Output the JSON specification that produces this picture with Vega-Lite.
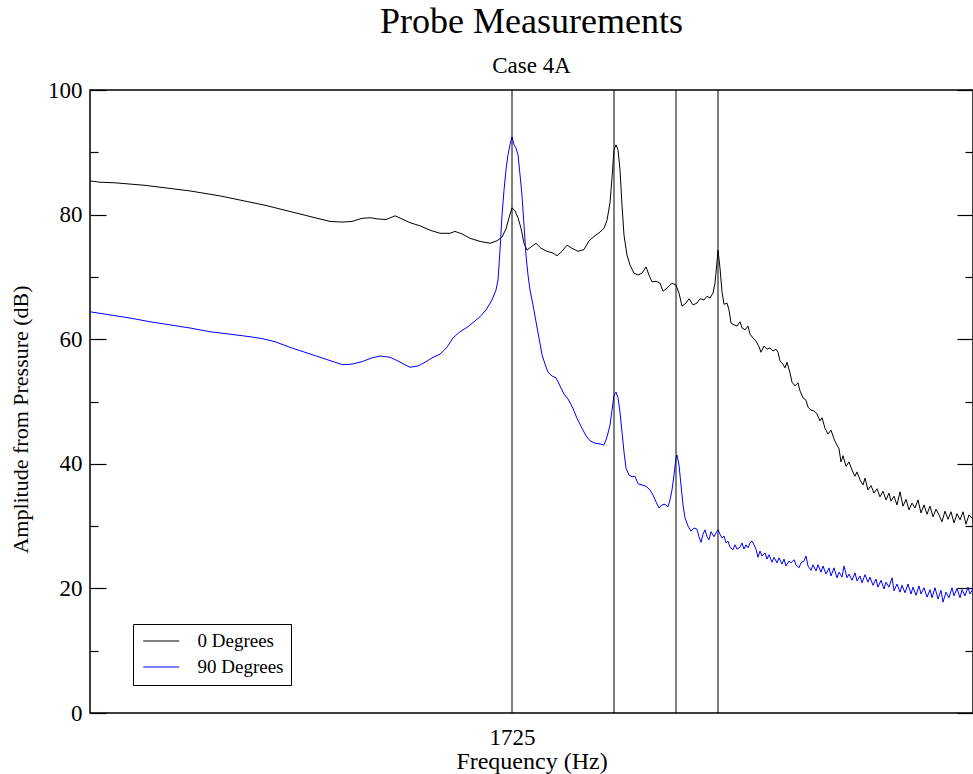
{
  "$schema": "https://vega.github.io/schema/vega-lite/v6.json",
  "width": 883,
  "height": 623,
  "autosize": "none",
  "padding": {"left": 90, "top": 90, "right": 0, "bottom": 61},
  "background": "white",
  "config": {
    "font": "Liberation Serif",
    "view": {"stroke": "black", "strokeWidth": 1.5},
    "axis": {"grid": false, "domain": false, "labelFont": "Liberation Serif", "titleFont": "Liberation Serif", "labelColor": "black", "titleColor": "black", "tickColor": "black", "labelFontSize": 23, "titleFontSize": 22, "titleFontWeight": "normal"}
  },
  "title": {
    "text": "Probe Measurements",
    "subtitle": "Case 4A",
    "fontSize": 36,
    "fontWeight": "normal",
    "font": "Liberation Serif",
    "subtitleFont": "Liberation Serif",
    "subtitleFontSize": 23,
    "subtitleColor": "black",
    "color": "black",
    "anchor": "middle",
    "subtitlePadding": 14,
    "offset": 0
  },
  "datasets": {
    "marks": [{"f": 1725}, {"f": 1827}, {"f": 1889}, {"f": 1931}]
  },
  "layer": [
    {
      "data": {"values": [
        {"s":"0 Degrees","f":1303,"a":85.4},{"s":"0 Degrees","f":1313,"a":85.2},{"s":"0 Degrees","f":1328,"a":85.1},{"s":"0 Degrees","f":1343,"a":84.9},{"s":"0 Degrees","f":1358,"a":84.7},{"s":"0 Degrees","f":1373,"a":84.4},{"s":"0 Degrees","f":1388,"a":84.1},{"s":"0 Degrees","f":1403,"a":83.8},{"s":"0 Degrees","f":1418,"a":83.4},{"s":"0 Degrees","f":1433,"a":83.0},{"s":"0 Degrees","f":1448,"a":82.5},{"s":"0 Degrees","f":1463,"a":82.0},{"s":"0 Degrees","f":1478,"a":81.5},{"s":"0 Degrees","f":1493,"a":80.9},{"s":"0 Degrees","f":1508,"a":80.3},{"s":"0 Degrees","f":1523,"a":79.7},{"s":"0 Degrees","f":1533,"a":79.3},{"s":"0 Degrees","f":1543,"a":78.9},{"s":"0 Degrees","f":1555,"a":78.8},{"s":"0 Degrees","f":1565,"a":78.9},{"s":"0 Degrees","f":1575,"a":79.4},{"s":"0 Degrees","f":1583,"a":79.5},{"s":"0 Degrees","f":1591,"a":79.3},{"s":"0 Degrees","f":1599,"a":79.2},{"s":"0 Degrees","f":1608,"a":79.8},{"s":"0 Degrees","f":1615,"a":79.3},{"s":"0 Degrees","f":1623,"a":78.7},{"s":"0 Degrees","f":1633,"a":78.2},{"s":"0 Degrees","f":1643,"a":77.5},{"s":"0 Degrees","f":1653,"a":77.0},{"s":"0 Degrees","f":1663,"a":77.0},{"s":"0 Degrees","f":1668,"a":77.3},{"s":"0 Degrees","f":1675,"a":76.9},{"s":"0 Degrees","f":1683,"a":76.2},{"s":"0 Degrees","f":1693,"a":75.7},{"s":"0 Degrees","f":1703,"a":75.4},{"s":"0 Degrees","f":1710,"a":75.8},{"s":"0 Degrees","f":1715,"a":76.4},{"s":"0 Degrees","f":1719,"a":77.7},{"s":"0 Degrees","f":1722,"a":79.5},{"s":"0 Degrees","f":1725,"a":81.1},{"s":"0 Degrees","f":1728,"a":80.6},{"s":"0 Degrees","f":1731,"a":79.5},{"s":"0 Degrees","f":1734,"a":77.8},{"s":"0 Degrees","f":1737,"a":75.4},{"s":"0 Degrees","f":1740,"a":74.3},{"s":"0 Degrees","f":1744,"a":74.8},{"s":"0 Degrees","f":1749,"a":75.4},{"s":"0 Degrees","f":1754,"a":74.6},{"s":"0 Degrees","f":1760,"a":74.1},{"s":"0 Degrees","f":1765,"a":73.9},{"s":"0 Degrees","f":1770,"a":73.4},{"s":"0 Degrees","f":1775,"a":74.1},{"s":"0 Degrees","f":1780,"a":75.1},{"s":"0 Degrees","f":1785,"a":74.6},{"s":"0 Degrees","f":1791,"a":74.1},{"s":"0 Degrees","f":1797,"a":74.4},{"s":"0 Degrees","f":1802,"a":75.8},{"s":"0 Degrees","f":1808,"a":76.6},{"s":"0 Degrees","f":1813,"a":77.2},{"s":"0 Degrees","f":1817,"a":77.8},{"s":"0 Degrees","f":1820,"a":79.1},{"s":"0 Degrees","f":1823,"a":81.9},{"s":"0 Degrees","f":1825,"a":85.9},{"s":"0 Degrees","f":1827,"a":90.4},{"s":"0 Degrees","f":1829,"a":91.2},{"s":"0 Degrees","f":1831,"a":90.4},{"s":"0 Degrees","f":1833,"a":87.2},{"s":"0 Degrees","f":1835,"a":81.5},{"s":"0 Degrees","f":1837,"a":76.7},{"s":"0 Degrees","f":1840,"a":73.5},{"s":"0 Degrees","f":1843,"a":71.9},{"s":"0 Degrees","f":1847,"a":70.6},{"s":"0 Degrees","f":1851,"a":70.3},{"s":"0 Degrees","f":1855,"a":70.6},{"s":"0 Degrees","f":1859,"a":71.6},{"s":"0 Degrees","f":1862,"a":70.3},{"s":"0 Degrees","f":1865,"a":69.2},{"s":"0 Degrees","f":1869,"a":69.3},{"s":"0 Degrees","f":1873,"a":69.0},{"s":"0 Degrees","f":1876,"a":67.7},{"s":"0 Degrees","f":1880,"a":68.2},{"s":"0 Degrees","f":1885,"a":69.0},{"s":"0 Degrees","f":1889,"a":68.7},{"s":"0 Degrees","f":1892,"a":67.4},{"s":"0 Degrees","f":1895,"a":65.3},{"s":"0 Degrees","f":1899,"a":65.8},{"s":"0 Degrees","f":1902,"a":66.5},{"s":"0 Degrees","f":1906,"a":65.5},{"s":"0 Degrees","f":1910,"a":65.8},{"s":"0 Degrees","f":1913,"a":66.5},{"s":"0 Degrees","f":1917,"a":66.3},{"s":"0 Degrees","f":1920,"a":66.9},{"s":"0 Degrees","f":1923,"a":66.6},{"s":"0 Degrees","f":1926,"a":67.4},{"s":"0 Degrees","f":1928,"a":69.0},{"s":"0 Degrees","f":1930,"a":72.4},{"s":"0 Degrees","f":1931,"a":74.3},{"s":"0 Degrees","f":1933,"a":71.4},{"s":"0 Degrees","f":1935,"a":67.6},{"s":"0 Degrees","f":1937,"a":65.6},{"s":"0 Degrees","f":1940,"a":65.8},{"s":"0 Degrees","f":1942,"a":64.7},{"s":"0 Degrees","f":1944,"a":62.6},{"s":"0 Degrees","f":1947,"a":62.3},{"s":"0 Degrees","f":1950,"a":62.1},{"s":"0 Degrees","f":1953,"a":62.8},{"s":"0 Degrees","f":1955,"a":61.8},{"s":"0 Degrees","f":1958,"a":61.5},{"s":"0 Degrees","f":1961,"a":62.1},{"s":"0 Degrees","f":1963,"a":60.8},{"s":"0 Degrees","f":1966,"a":60.2},{"s":"0 Degrees","f":1969,"a":59.7},{"s":"0 Degrees","f":1972,"a":58.8},{"s":"0 Degrees","f":1974,"a":57.9},{"s":"0 Degrees","f":1977,"a":58.9},{"s":"0 Degrees","f":1980,"a":58.4},{"s":"0 Degrees","f":1983,"a":58.6},{"s":"0 Degrees","f":1986,"a":58.1},{"s":"0 Degrees","f":1989,"a":58.4},{"s":"0 Degrees","f":1991,"a":57.9},{"s":"0 Degrees","f":1993,"a":56.5},{"s":"0 Degrees","f":1996,"a":56.0},{"s":"0 Degrees","f":1998,"a":55.4},{"s":"0 Degrees","f":2000,"a":56.3},{"s":"0 Degrees","f":2003,"a":54.6},{"s":"0 Degrees","f":2005,"a":53.1},{"s":"0 Degrees","f":2008,"a":52.5},{"s":"0 Degrees","f":2011,"a":53.0},{"s":"0 Degrees","f":2013,"a":51.7},{"s":"0 Degrees","f":2016,"a":50.6},{"s":"0 Degrees","f":2019,"a":50.2},{"s":"0 Degrees","f":2021,"a":49.1},{"s":"0 Degrees","f":2024,"a":48.6},{"s":"0 Degrees","f":2027,"a":48.5},{"s":"0 Degrees","f":2030,"a":48.0},{"s":"0 Degrees","f":2033,"a":46.9},{"s":"0 Degrees","f":2035,"a":47.4},{"s":"0 Degrees","f":2038,"a":45.7},{"s":"0 Degrees","f":2041,"a":44.8},{"s":"0 Degrees","f":2044,"a":45.4},{"s":"0 Degrees","f":2047,"a":44.0},{"s":"0 Degrees","f":2049,"a":43.3},{"s":"0 Degrees","f":2052,"a":42.4},{"s":"0 Degrees","f":2054,"a":40.3},{"s":"0 Degrees","f":2056,"a":41.3},{"s":"0 Degrees","f":2059,"a":39.6},{"s":"0 Degrees","f":2062,"a":40.3},{"s":"0 Degrees","f":2065,"a":39.0},{"s":"0 Degrees","f":2068,"a":38.0},{"s":"0 Degrees","f":2070,"a":38.7},{"s":"0 Degrees","f":2073,"a":37.4},{"s":"0 Degrees","f":2076,"a":36.6},{"s":"0 Degrees","f":2078,"a":37.7},{"s":"0 Degrees","f":2081,"a":35.8},{"s":"0 Degrees","f":2084,"a":36.5},{"s":"0 Degrees","f":2087,"a":35.3},{"s":"0 Degrees","f":2090,"a":36.0},{"s":"0 Degrees","f":2093,"a":34.7},{"s":"0 Degrees","f":2096,"a":35.6},{"s":"0 Degrees","f":2099,"a":34.2},{"s":"0 Degrees","f":2102,"a":35.3},{"s":"0 Degrees","f":2104,"a":34.0},{"s":"0 Degrees","f":2107,"a":34.8},{"s":"0 Degrees","f":2110,"a":33.4},{"s":"0 Degrees","f":2113,"a":35.5},{"s":"0 Degrees","f":2116,"a":33.2},{"s":"0 Degrees","f":2119,"a":34.3},{"s":"0 Degrees","f":2122,"a":32.6},{"s":"0 Degrees","f":2125,"a":33.7},{"s":"0 Degrees","f":2128,"a":32.9},{"s":"0 Degrees","f":2131,"a":34.2},{"s":"0 Degrees","f":2134,"a":32.1},{"s":"0 Degrees","f":2137,"a":33.4},{"s":"0 Degrees","f":2140,"a":31.9},{"s":"0 Degrees","f":2143,"a":33.2},{"s":"0 Degrees","f":2146,"a":31.5},{"s":"0 Degrees","f":2149,"a":32.7},{"s":"0 Degrees","f":2152,"a":31.8},{"s":"0 Degrees","f":2155,"a":30.7},{"s":"0 Degrees","f":2158,"a":32.4},{"s":"0 Degrees","f":2161,"a":31.1},{"s":"0 Degrees","f":2164,"a":32.3},{"s":"0 Degrees","f":2167,"a":30.5},{"s":"0 Degrees","f":2170,"a":32.0},{"s":"0 Degrees","f":2173,"a":31.0},{"s":"0 Degrees","f":2176,"a":32.3},{"s":"0 Degrees","f":2179,"a":30.3},{"s":"0 Degrees","f":2182,"a":31.8},{"s":"0 Degrees","f":2186,"a":31.1},
        {"s":"90 Degrees","f":1303,"a":64.4},{"s":"90 Degrees","f":1323,"a":63.9},{"s":"90 Degrees","f":1343,"a":63.4},{"s":"90 Degrees","f":1363,"a":62.8},{"s":"90 Degrees","f":1383,"a":62.3},{"s":"90 Degrees","f":1403,"a":61.8},{"s":"90 Degrees","f":1423,"a":61.2},{"s":"90 Degrees","f":1443,"a":60.8},{"s":"90 Degrees","f":1463,"a":60.4},{"s":"90 Degrees","f":1475,"a":60.1},{"s":"90 Degrees","f":1488,"a":59.6},{"s":"90 Degrees","f":1503,"a":58.7},{"s":"90 Degrees","f":1518,"a":57.9},{"s":"90 Degrees","f":1533,"a":57.1},{"s":"90 Degrees","f":1548,"a":56.3},{"s":"90 Degrees","f":1556,"a":55.9},{"s":"90 Degrees","f":1565,"a":56.0},{"s":"90 Degrees","f":1575,"a":56.4},{"s":"90 Degrees","f":1585,"a":57.0},{"s":"90 Degrees","f":1593,"a":57.3},{"s":"90 Degrees","f":1603,"a":57.1},{"s":"90 Degrees","f":1611,"a":56.5},{"s":"90 Degrees","f":1618,"a":55.9},{"s":"90 Degrees","f":1623,"a":55.5},{"s":"90 Degrees","f":1631,"a":55.7},{"s":"90 Degrees","f":1638,"a":56.3},{"s":"90 Degrees","f":1645,"a":57.0},{"s":"90 Degrees","f":1653,"a":57.6},{"s":"90 Degrees","f":1660,"a":58.7},{"s":"90 Degrees","f":1666,"a":60.2},{"s":"90 Degrees","f":1673,"a":61.2},{"s":"90 Degrees","f":1680,"a":61.9},{"s":"90 Degrees","f":1687,"a":62.8},{"s":"90 Degrees","f":1693,"a":63.6},{"s":"90 Degrees","f":1699,"a":64.7},{"s":"90 Degrees","f":1705,"a":66.3},{"s":"90 Degrees","f":1709,"a":67.9},{"s":"90 Degrees","f":1711,"a":69.5},{"s":"90 Degrees","f":1713,"a":74.3},{"s":"90 Degrees","f":1715,"a":79.9},{"s":"90 Degrees","f":1717,"a":83.9},{"s":"90 Degrees","f":1719,"a":87.2},{"s":"90 Degrees","f":1721,"a":89.6},{"s":"90 Degrees","f":1723,"a":91.2},{"s":"90 Degrees","f":1725,"a":92.5},{"s":"90 Degrees","f":1727,"a":91.2},{"s":"90 Degrees","f":1729,"a":90.7},{"s":"90 Degrees","f":1731,"a":89.6},{"s":"90 Degrees","f":1733,"a":86.4},{"s":"90 Degrees","f":1735,"a":83.1},{"s":"90 Degrees","f":1737,"a":78.3},{"s":"90 Degrees","f":1739,"a":73.5},{"s":"90 Degrees","f":1741,"a":70.3},{"s":"90 Degrees","f":1743,"a":67.9},{"s":"90 Degrees","f":1746,"a":65.5},{"s":"90 Degrees","f":1749,"a":62.8},{"s":"90 Degrees","f":1752,"a":60.2},{"s":"90 Degrees","f":1755,"a":57.5},{"s":"90 Degrees","f":1758,"a":56.0},{"s":"90 Degrees","f":1761,"a":54.7},{"s":"90 Degrees","f":1765,"a":54.1},{"s":"90 Degrees","f":1769,"a":53.8},{"s":"90 Degrees","f":1773,"a":52.5},{"s":"90 Degrees","f":1777,"a":51.2},{"s":"90 Degrees","f":1781,"a":50.4},{"s":"90 Degrees","f":1786,"a":48.9},{"s":"90 Degrees","f":1790,"a":47.3},{"s":"90 Degrees","f":1795,"a":45.7},{"s":"90 Degrees","f":1799,"a":44.5},{"s":"90 Degrees","f":1803,"a":43.7},{"s":"90 Degrees","f":1808,"a":43.3},{"s":"90 Degrees","f":1813,"a":43.2},{"s":"90 Degrees","f":1817,"a":43.0},{"s":"90 Degrees","f":1820,"a":44.3},{"s":"90 Degrees","f":1823,"a":46.2},{"s":"90 Degrees","f":1825,"a":48.6},{"s":"90 Degrees","f":1827,"a":51.0},{"s":"90 Degrees","f":1829,"a":51.5},{"s":"90 Degrees","f":1831,"a":50.6},{"s":"90 Degrees","f":1833,"a":48.3},{"s":"90 Degrees","f":1835,"a":45.1},{"s":"90 Degrees","f":1837,"a":41.9},{"s":"90 Degrees","f":1839,"a":39.3},{"s":"90 Degrees","f":1842,"a":38.2},{"s":"90 Degrees","f":1845,"a":37.9},{"s":"90 Degrees","f":1848,"a":38.0},{"s":"90 Degrees","f":1851,"a":36.8},{"s":"90 Degrees","f":1855,"a":36.6},{"s":"90 Degrees","f":1859,"a":36.4},{"s":"90 Degrees","f":1863,"a":35.8},{"s":"90 Degrees","f":1866,"a":35.0},{"s":"90 Degrees","f":1869,"a":33.9},{"s":"90 Degrees","f":1872,"a":32.9},{"s":"90 Degrees","f":1875,"a":33.4},{"s":"90 Degrees","f":1878,"a":33.5},{"s":"90 Degrees","f":1881,"a":33.1},{"s":"90 Degrees","f":1883,"a":34.2},{"s":"90 Degrees","f":1885,"a":35.8},{"s":"90 Degrees","f":1887,"a":38.2},{"s":"90 Degrees","f":1889,"a":40.9},{"s":"90 Degrees","f":1890,"a":41.4},{"s":"90 Degrees","f":1892,"a":39.8},{"s":"90 Degrees","f":1894,"a":36.6},{"s":"90 Degrees","f":1896,"a":33.4},{"s":"90 Degrees","f":1898,"a":31.3},{"s":"90 Degrees","f":1901,"a":30.0},{"s":"90 Degrees","f":1904,"a":29.2},{"s":"90 Degrees","f":1907,"a":29.7},{"s":"90 Degrees","f":1910,"a":29.5},{"s":"90 Degrees","f":1912,"a":28.3},{"s":"90 Degrees","f":1914,"a":27.4},{"s":"90 Degrees","f":1916,"a":28.7},{"s":"90 Degrees","f":1918,"a":29.4},{"s":"90 Degrees","f":1920,"a":28.3},{"s":"90 Degrees","f":1922,"a":27.8},{"s":"90 Degrees","f":1924,"a":29.1},{"s":"90 Degrees","f":1927,"a":28.3},{"s":"90 Degrees","f":1929,"a":28.9},{"s":"90 Degrees","f":1931,"a":29.4},{"s":"90 Degrees","f":1933,"a":28.7},{"s":"90 Degrees","f":1935,"a":28.1},{"s":"90 Degrees","f":1937,"a":28.4},{"s":"90 Degrees","f":1939,"a":27.3},{"s":"90 Degrees","f":1941,"a":27.6},{"s":"90 Degrees","f":1943,"a":26.6},{"s":"90 Degrees","f":1946,"a":26.2},{"s":"90 Degrees","f":1948,"a":27.0},{"s":"90 Degrees","f":1950,"a":26.3},{"s":"90 Degrees","f":1953,"a":26.6},{"s":"90 Degrees","f":1955,"a":27.3},{"s":"90 Degrees","f":1957,"a":26.3},{"s":"90 Degrees","f":1959,"a":27.0},{"s":"90 Degrees","f":1961,"a":26.5},{"s":"90 Degrees","f":1963,"a":27.3},{"s":"90 Degrees","f":1965,"a":27.6},{"s":"90 Degrees","f":1967,"a":27.0},{"s":"90 Degrees","f":1969,"a":26.3},{"s":"90 Degrees","f":1971,"a":25.0},{"s":"90 Degrees","f":1973,"a":26.0},{"s":"90 Degrees","f":1975,"a":25.2},{"s":"90 Degrees","f":1978,"a":25.7},{"s":"90 Degrees","f":1980,"a":24.7},{"s":"90 Degrees","f":1982,"a":25.4},{"s":"90 Degrees","f":1985,"a":24.2},{"s":"90 Degrees","f":1987,"a":25.0},{"s":"90 Degrees","f":1990,"a":24.1},{"s":"90 Degrees","f":1992,"a":24.9},{"s":"90 Degrees","f":1995,"a":23.9},{"s":"90 Degrees","f":1997,"a":24.7},{"s":"90 Degrees","f":1999,"a":23.6},{"s":"90 Degrees","f":2002,"a":24.4},{"s":"90 Degrees","f":2004,"a":24.1},{"s":"90 Degrees","f":2007,"a":24.6},{"s":"90 Degrees","f":2009,"a":23.8},{"s":"90 Degrees","f":2012,"a":23.3},{"s":"90 Degrees","f":2014,"a":24.1},{"s":"90 Degrees","f":2017,"a":24.4},{"s":"90 Degrees","f":2019,"a":25.2},{"s":"90 Degrees","f":2021,"a":23.6},{"s":"90 Degrees","f":2024,"a":22.9},{"s":"90 Degrees","f":2026,"a":23.8},{"s":"90 Degrees","f":2029,"a":22.8},{"s":"90 Degrees","f":2031,"a":23.8},{"s":"90 Degrees","f":2034,"a":22.6},{"s":"90 Degrees","f":2036,"a":23.6},{"s":"90 Degrees","f":2039,"a":22.3},{"s":"90 Degrees","f":2042,"a":23.3},{"s":"90 Degrees","f":2044,"a":22.0},{"s":"90 Degrees","f":2047,"a":23.3},{"s":"90 Degrees","f":2050,"a":21.7},{"s":"90 Degrees","f":2052,"a":22.6},{"s":"90 Degrees","f":2055,"a":21.8},{"s":"90 Degrees","f":2057,"a":23.6},{"s":"90 Degrees","f":2060,"a":21.7},{"s":"90 Degrees","f":2062,"a":22.3},{"s":"90 Degrees","f":2065,"a":21.3},{"s":"90 Degrees","f":2068,"a":22.5},{"s":"90 Degrees","f":2070,"a":21.2},{"s":"90 Degrees","f":2073,"a":22.0},{"s":"90 Degrees","f":2075,"a":20.9},{"s":"90 Degrees","f":2078,"a":22.2},{"s":"90 Degrees","f":2081,"a":21.0},{"s":"90 Degrees","f":2083,"a":21.8},{"s":"90 Degrees","f":2086,"a":20.5},{"s":"90 Degrees","f":2089,"a":21.5},{"s":"90 Degrees","f":2091,"a":20.2},{"s":"90 Degrees","f":2094,"a":21.3},{"s":"90 Degrees","f":2097,"a":19.9},{"s":"90 Degrees","f":2099,"a":21.0},{"s":"90 Degrees","f":2102,"a":20.2},{"s":"90 Degrees","f":2105,"a":21.7},{"s":"90 Degrees","f":2107,"a":19.6},{"s":"90 Degrees","f":2110,"a":20.7},{"s":"90 Degrees","f":2113,"a":19.4},{"s":"90 Degrees","f":2115,"a":20.5},{"s":"90 Degrees","f":2118,"a":19.3},{"s":"90 Degrees","f":2121,"a":20.7},{"s":"90 Degrees","f":2124,"a":19.1},{"s":"90 Degrees","f":2126,"a":20.2},{"s":"90 Degrees","f":2129,"a":18.9},{"s":"90 Degrees","f":2132,"a":20.4},{"s":"90 Degrees","f":2134,"a":19.1},{"s":"90 Degrees","f":2137,"a":20.1},{"s":"90 Degrees","f":2140,"a":18.6},{"s":"90 Degrees","f":2143,"a":19.8},{"s":"90 Degrees","f":2145,"a":18.5},{"s":"90 Degrees","f":2148,"a":20.1},{"s":"90 Degrees","f":2151,"a":18.3},{"s":"90 Degrees","f":2154,"a":19.7},{"s":"90 Degrees","f":2156,"a":17.8},{"s":"90 Degrees","f":2159,"a":19.4},{"s":"90 Degrees","f":2162,"a":18.5},{"s":"90 Degrees","f":2165,"a":20.1},{"s":"90 Degrees","f":2167,"a":18.8},{"s":"90 Degrees","f":2170,"a":20.0},{"s":"90 Degrees","f":2173,"a":18.5},{"s":"90 Degrees","f":2175,"a":19.8},{"s":"90 Degrees","f":2178,"a":18.8},{"s":"90 Degrees","f":2181,"a":20.2},{"s":"90 Degrees","f":2183,"a":19.1},{"s":"90 Degrees","f":2186,"a":19.9}
      ]},
      "mark": {"type": "line", "strokeWidth": 1, "clip": true},
      "encoding": {
        "x": {"field": "f", "type": "quantitative", "scale": {"domain": [1303, 2186], "nice": false, "zero": false},
          "axis": {"values": [1725], "format": "d", "ticks": false, "labelPadding": 13, "title": "Frequency (Hz)", "titleFontSize": 24, "titlePadding": 0}},
        "y": {"field": "a", "type": "quantitative", "scale": {"domain": [0, 100], "nice": false},
          "axis": {"values": [0, 10, 20, 30, 40, 50, 60, 70, 80, 90, 100], "labelExpr": "datum.value % 20 === 0 ? datum.label : ''",
            "tickSize": {"condition": {"test": "datum.value % 20 === 0", "value": -16}, "value": -8},
            "tickWidth": 1.2, "labelPadding": 24, "title": "Amplitude from Pressure (dB)", "titlePadding": 15, "titleY": 329}},
        "color": {"field": "s", "type": "nominal", "scale": {"domain": ["0 Degrees", "90 Degrees"], "range": ["#000000", "#0000ff"]},
          "legend": {"title": null, "orient": "none", "legendX": 43, "legendY": 534, "strokeColor": "black", "fillColor": "white", "padding": 7.5,
            "symbolType": "M-0.75,0H3.25", "symbolSize": 324, "symbolStrokeWidth": 1, "labelFontSize": 19, "labelFont": "Liberation Serif", "labelColor": "black", "labelOffset": 38, "rowPadding": 6}}
      }
    },
    {
      "data": {"name": "marks"},
      "mark": {"type": "rule", "color": "black", "strokeWidth": 1},
      "encoding": {
        "x": {"field": "f", "type": "quantitative"},
        "y": {"datum": 0, "type": "quantitative",
          "axis": {"orient": "right", "values": [0, 10, 20, 30, 40, 50, 60, 70, 80, 90, 100], "labels": false, "title": null,
            "tickSize": {"condition": {"test": "datum.value % 20 === 0", "value": -16}, "value": -8}, "tickWidth": 1.2}},
        "y2": {"datum": 100}
      }
    }
  ],
  "resolve": {"axis": {"y": "independent"}}
}
